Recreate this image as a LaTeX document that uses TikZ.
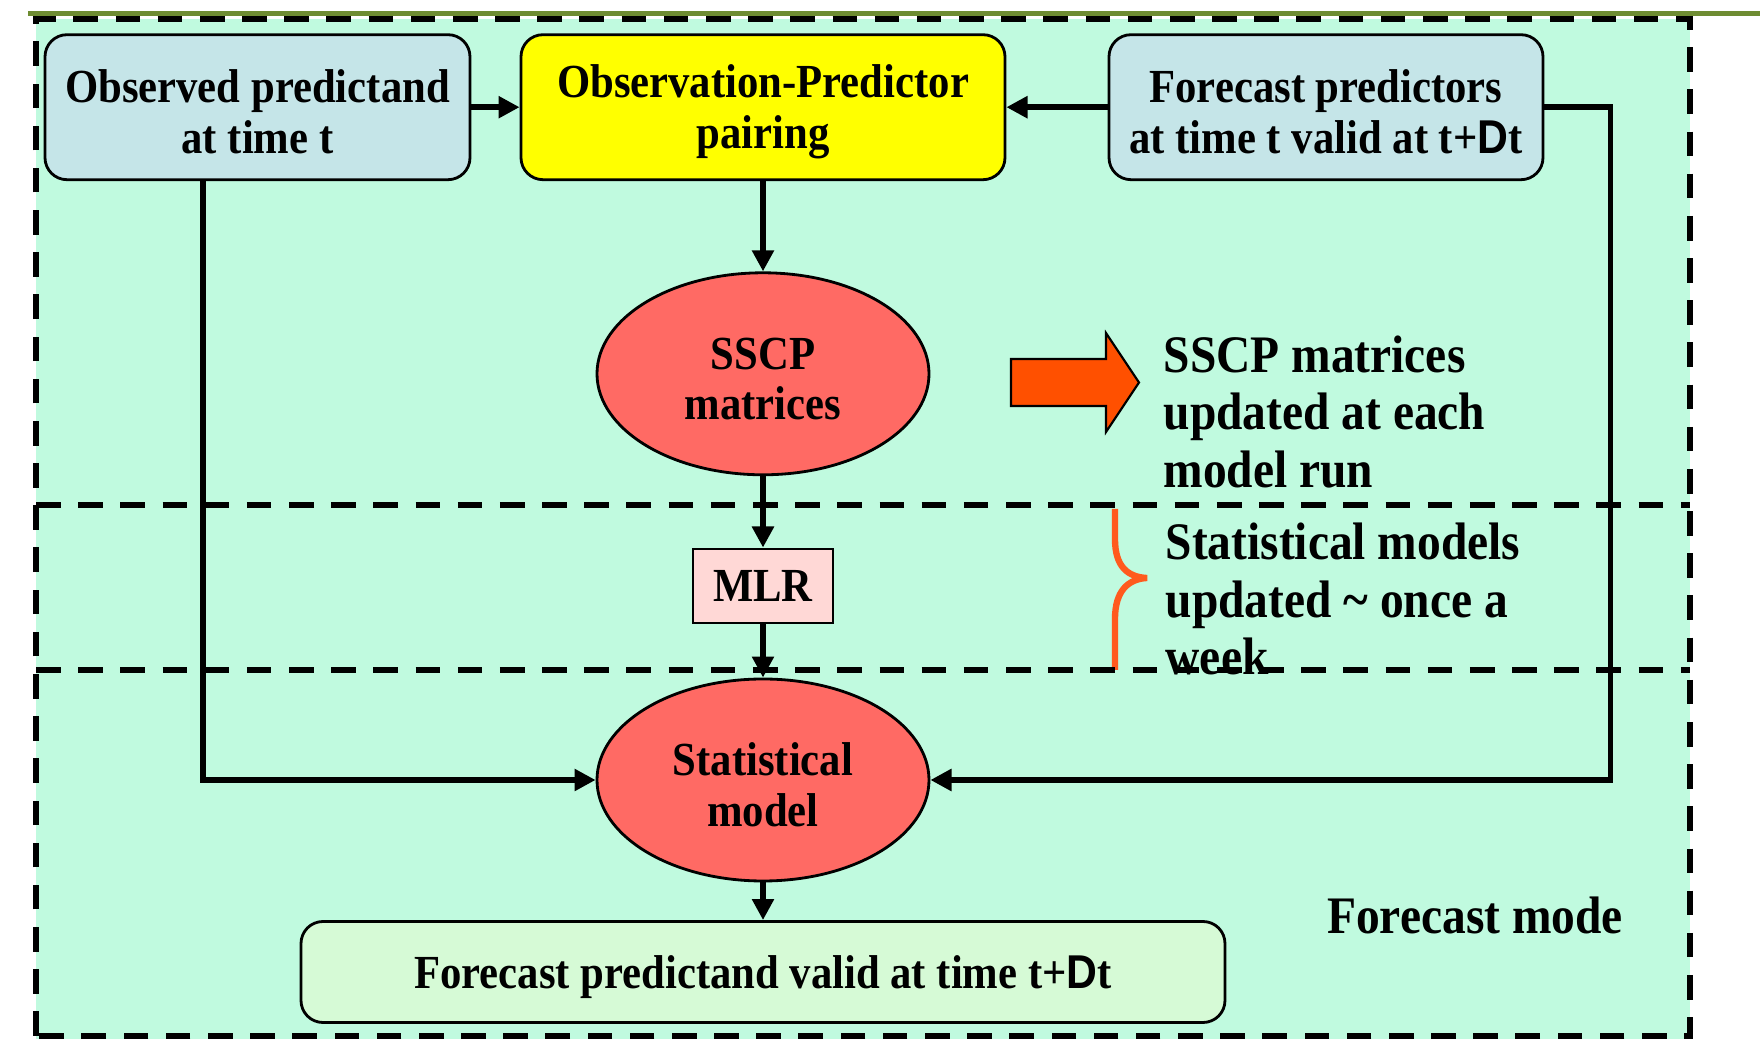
\documentclass[tikz,border=0pt]{standalone}
\usepackage{fontspec}
\setmainfont{Liberation Serif}[FakeStretch=0.9]
\newfontfamily\sansD{Liberation Sans}[FakeStretch=0.9]
\usepackage{xcolor}
\usetikzlibrary{arrows.meta, shapes.geometric, positioning}

\definecolor{mint}{RGB}{192,250,223}
\definecolor{paleblue}{RGB}{197,229,232}
\definecolor{blobred}{RGB}{255,106,100}
\definecolor{mlrpink}{RGB}{255,216,214}
\definecolor{outgreen}{RGB}{214,250,214}
\definecolor{hotorange}{RGB}{255,80,0}
\definecolor{braceorange}{RGB}{255,90,30}
\definecolor{rule}{RGB}{110,140,50}
\definecolor{pureyellow}{RGB}{255,255,0}

\newcommand{\Dt}{{\sansD\bfseries D}t}
\newcommand{\lift}{\rule{0pt}{12pt}}

\begin{document}
\begin{tikzpicture}[>={Triangle[length=6pt,width=6pt]},
  box/.style={draw, line width=0.8pt, rounded corners=2.2mm, minimum height=1.45cm,
    align=center, inner sep=0pt, font=\fontsize{13.5}{14.4}\selectfont\bfseries},
  blob/.style={ellipse, draw, line width=0.8pt, fill=blobred, minimum width=3.32cm,
    minimum height=2.02cm, inner sep=0pt, align=center,
    font=\fontsize{13.5}{14.4}\selectfont\bfseries},
  link/.style={->, line width=1.6pt},
  zone/.style={line width=1.7pt, dash pattern=on 7pt off 5pt},
  note/.style={anchor=west, align=left, inner sep=0pt,
    font=\fontsize{15}{16.3}\selectfont\bfseries}]
  \useasboundingbox (0,0) rectangle (17.6,10.39);
  % background
  \fill[mint] (0.36,0) rectangle (16.9,10.2);
  \draw[rule, line width=1.3pt] (0.28,10.255) -- (17.6,10.255);
  % top row
  \node[box, fill=paleblue, minimum width=4.25cm] (obs) at (2.575,9.318)
    {\lift Observed predictand\\at time t};
  \node[box, fill=pureyellow, minimum width=4.84cm] (pair) at (7.63,9.318)
    {\lift Observation-Predictor\\pairing};
  \node[box, fill=paleblue, minimum width=4.34cm] (fcst) at (13.26,9.318)
    {\lift Forecast predictors\\at time t valid at t+\Dt};
  % middle column
  \node[blob] (sscp) at (7.63,6.652) {\lift SSCP\\matrices};
  \node[draw, line width=0.8pt, fill=mlrpink, minimum width=1.40cm, minimum height=0.74cm,
    inner sep=0pt, font=\fontsize{13.5}{14.4}\selectfont\bfseries] (mlr) at (7.63,4.53) {MLR};
  \node[blob] (stat) at (7.63,2.59) {\lift Statistical\\model};
  \node[box, fill=outgreen, minimum width=9.24cm, minimum height=1.01cm] (out) at (7.63,0.67)
    {\rule{0pt}{12.5pt}Forecast predictand valid at time t+\Dt};
  % connectors
  \draw[link] (obs.east) -- (pair.west);
  \draw[link] (fcst.west) -- (pair.east);
  \draw[link] (pair.south) -- (sscp.north);
  \draw[link] (sscp.south) -- (mlr.north);
  \draw[link] (mlr.south) -- (stat.north);
  \draw[link] (stat.south) -- (out.north);
  \draw[link] ([xshift=-5.45mm]obs.south) |- (stat.west);
  \draw[link] (fcst.east) -- ++(0.66,0) |- (stat.east);
  % side notes
  \fill[hotorange, draw=black, line width=0.6pt] (10.11,6.80) -- (11.06,6.80) -- (11.06,7.06)
    -- (11.39,6.565) -- (11.06,6.07) -- (11.06,6.33) -- (10.11,6.33) -- cycle;
  \node[note] (runnote) at (11.63,6.27) {SSCP matrices\\updated at each\\model run};
  \draw[braceorange, line width=1.8pt] (11.15,5.30) -- (11.15,5.0)
    .. controls (11.15,4.72) and (11.28,4.62) .. (11.47,4.61)
    .. controls (11.28,4.60) and (11.15,4.48) .. (11.15,4.2) -- (11.15,3.69);
  \node[note] (weeknote) at (11.65,4.40) {Statistical models\\updated \textasciitilde{} once a\\week};
  \node[note, anchor=center] (mode) at (14.75,1.24) {Forecast mode};
  % dashed zones
  \draw[zone] (0.36,0.03) rectangle (16.9,10.2);
  \draw[zone] (0.36,5.34) -- (16.9,5.34);
  \draw[zone] (0.36,3.69) -- (16.9,3.69);
\end{tikzpicture}
\end{document}
